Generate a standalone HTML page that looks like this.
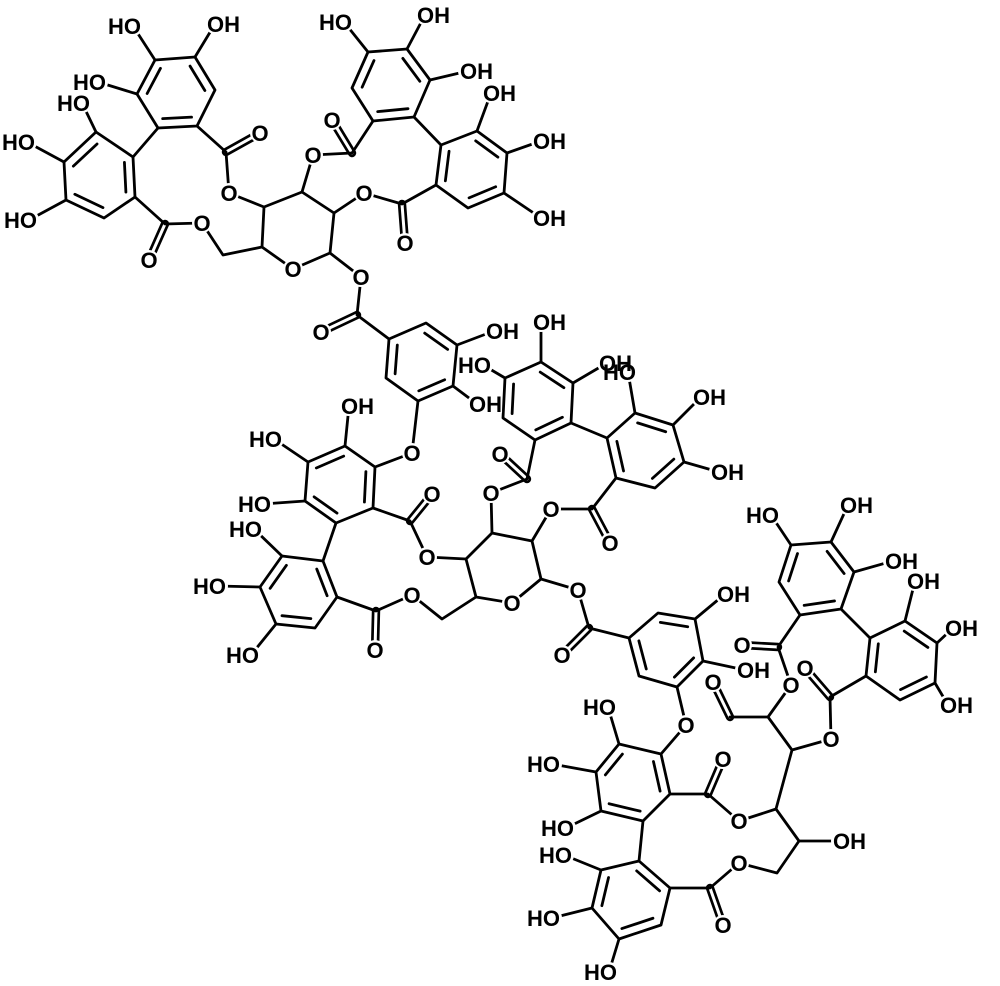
<!DOCTYPE html>
<html><head><meta charset="utf-8"><style>
html,body{margin:0;padding:0;background:#fff}
svg{display:block}
text{font-family:"Liberation Sans",sans-serif;font-weight:bold;font-size:22px;fill:#000;stroke:#fff;stroke-width:3px;paint-order:stroke;stroke-linejoin:round}
</style></head><body>
<svg width="1000" height="986" viewBox="0 0 1000 986" xmlns="http://www.w3.org/2000/svg">
<g fill="none" stroke-linecap="round" stroke-linejoin="round">
<g stroke="#000" stroke-width="8.4">
<path d="M226 152L260 133M165 224L149 260M352 153L332 120M402 204L405 243M357 315L321 332M410 521L432 494M376 611L375 650M527 479L500 454M592 509L610 543M589 628L562 655M708 794L723 759M710 888L723 925M730 717L713 682M778 647L742 645M830 697L805 668"/>
</g>
<g stroke="#fff" stroke-width="3">
<path d="M226 152L260 133M165 224L149 260M352 153L332 120M402 204L405 243M357 315L321 332M410 521L432 494M376 611L375 650M527 479L500 454M592 509L610 543M589 628L562 655M708 794L723 759M710 888L723 925M730 717L713 682M778 647L742 645M830 697L805 668"/>
</g>
<g stroke="#000" stroke-width="2.8">
<polygon points="155,60 195,57 215,90 197,126 158,128 137,94"/>
<polygon points="133,157 96,132 64,162 66,200 104,218 135,197"/>
<polygon points="373,121 352,88 368,52 407,49 430,80 414,117"/>
<polygon points="441,145 477,131 507,153 504,193 468,208 436,185"/>
<polygon points="389,339 426,323 457,345 453,386 418,401 386,378"/>
<polygon points="375,467 345,446 308,462 305,501 336,523 373,508"/>
<polygon points="323,561 282,556 260,587 276,624 315,628 337,597"/>
<polygon points="535,440 503,418 505,378 541,362 573,383 571,423"/>
<polygon points="607,438 635,413 673,425 684,462 655,488 616,478"/>
<polygon points="629,638 658,613 695,619 703,661 677,687 639,676"/>
<polygon points="661,754 619,744 596,772 601,811 643,821 670,794"/>
<polygon points="639,861 601,870 592,908 619,939 661,925 670,888"/>
<polygon points="800,615 779,582 791,545 831,542 854,572 841,609"/>
<polygon points="870,638 905,621 937,643 935,683 900,700 866,676"/>
<polygon points="264,207 302,192 334,213 330,253 293,269 262,247"/>
<polygon points="466,559 492,533 532,541 541,579 512,603 476,597"/>
<g transform="translate(176,92) scale(.74) translate(-176,-92)"><path vector-effect="non-scaling-stroke" d="M195 57L215 90M197 126L158 128M137 94L155 60"/></g>
<g transform="translate(100,178) scale(.74) translate(-100,-178)"><path vector-effect="non-scaling-stroke" d="M96 132L64 162M66 200L104 218M135 197L133 157"/></g>
<g transform="translate(391,85) scale(.74) translate(-391,-85)"><path vector-effect="non-scaling-stroke" d="M352 88L368 52M407 49L430 80M414 117L373 121"/></g>
<g transform="translate(472,169) scale(.74) translate(-472,-169)"><path vector-effect="non-scaling-stroke" d="M477 131L507 153M504 193L468 208M436 185L441 145"/></g>
<g transform="translate(421,362) scale(.74) translate(-421,-362)"><path vector-effect="non-scaling-stroke" d="M426 323L457 345M453 386L418 401M386 378L389 339"/></g>
<g transform="translate(340,485) scale(.74) translate(-340,-485)"><path vector-effect="non-scaling-stroke" d="M345 446L308 462M305 501L336 523M373 508L375 467"/></g>
<g transform="translate(299,592) scale(.74) translate(-299,-592)"><path vector-effect="non-scaling-stroke" d="M282 556L260 587M276 624L315 628M337 597L323 561"/></g>
<g transform="translate(538,401) scale(.74) translate(-538,-401)"><path vector-effect="non-scaling-stroke" d="M503 418L505 378M541 362L573 383M571 423L535 440"/></g>
<g transform="translate(645,451) scale(.74) translate(-645,-451)"><path vector-effect="non-scaling-stroke" d="M635 413L673 425M684 462L655 488M616 478L607 438"/></g>
<g transform="translate(667,649) scale(.74) translate(-667,-649)"><path vector-effect="non-scaling-stroke" d="M658 613L695 619M703 661L677 687M639 676L629 638"/></g>
<g transform="translate(632,783) scale(.74) translate(-632,-783)"><path vector-effect="non-scaling-stroke" d="M619 744L596 772M601 811L643 821M670 794L661 754"/></g>
<g transform="translate(630,899) scale(.74) translate(-630,-899)"><path vector-effect="non-scaling-stroke" d="M601 870L592 908M619 939L661 925M670 888L639 861"/></g>
<g transform="translate(816,578) scale(.74) translate(-816,-578)"><path vector-effect="non-scaling-stroke" d="M779 582L791 545M831 542L854 572M841 609L800 615"/></g>
<g transform="translate(902,660) scale(.74) translate(-902,-660)"><path vector-effect="non-scaling-stroke" d="M905 621L937 643M935 683L900 700M866 676L870 638"/></g>
<path d="M155 60L133 26M195 57L215 24M137 94L98 82M96 132L82 103M64 162L27 142M66 200L29 220M158 128L133 157M197 126L226 152L229 193L264 207M135 197L165 224L202 223L223 255L262 247M302 192L313 155L352 153L373 121M368 52L344 22M407 49L425 15M430 80L468 71M414 117L441 145M477 131L491 93M507 153L541 141M504 193L541 218M334 213L364 193L402 204L436 185M330 253L361 277L357 315L389 339"/>
<path d="M457 345L494 331M453 386L477 404M418 401L412 453L375 467M345 446L349 406M308 462L274 439M305 501L263 504M373 508L410 521L427 557L466 559M336 523L323 561M282 556L254 529M260 587L218 586M276 624L251 655M337 597L376 611L412 595L442 619L476 597M492 533L491 493L527 479L535 440M505 378L483 365M541 362L541 322M573 383L607 363M571 423L607 438M635 413L628 372M673 425L701 397M684 462L719 472M616 478L592 509L551 509L532 541M541 579L578 590L589 628L629 638"/>
<path d="M695 619L725 594M703 661L745 670M677 687L686 725L661 754M619 744L608 707M596 772L552 764M601 811L566 828M670 794L708 794L739 821L776 809M643 821L639 861M601 870L564 855M592 908L552 918M619 939L609 972M670 888L710 888L739 863L777 873L799 841M776 809L799 841L841 841M776 809L792 750L831 739M792 750L768 717L730 717M768 717L791 685L778 647L800 615M791 545L771 515M831 542L848 505M854 572L893 561M841 609L870 638M905 621L915 581M937 643L953 628M935 683L948 705M866 676L830 697L831 739"/>
</g>
</g>
<!-- white masks at all O positions -->
<g fill="#fff">
<circle cx="260" cy="133" r="10"/><circle cx="229" cy="193" r="10"/><circle cx="149" cy="260" r="10"/><circle cx="202" cy="223" r="10"/><circle cx="293" cy="269" r="10"/><circle cx="313" cy="155" r="10"/><circle cx="332" cy="120" r="10"/><circle cx="364" cy="193" r="10"/><circle cx="405" cy="243" r="10"/><circle cx="361" cy="277" r="10"/><circle cx="321" cy="332" r="10"/>
<circle cx="412" cy="453" r="10"/><circle cx="432" cy="494" r="10"/><circle cx="427" cy="557" r="10"/><circle cx="375" cy="650" r="10"/><circle cx="412" cy="595" r="10"/><circle cx="512" cy="603" r="10"/><circle cx="491" cy="493" r="10"/><circle cx="500" cy="454" r="10"/><circle cx="610" cy="543" r="10"/><circle cx="551" cy="509" r="10"/><circle cx="578" cy="590" r="10"/><circle cx="562" cy="655" r="10"/>
<circle cx="686" cy="725" r="10"/><circle cx="723" cy="759" r="10"/><circle cx="739" cy="821" r="10"/><circle cx="723" cy="925" r="10"/><circle cx="739" cy="863" r="10"/><circle cx="831" cy="739" r="10"/><circle cx="713" cy="682" r="10"/><circle cx="791" cy="685" r="10"/><circle cx="742" cy="645" r="10"/><circle cx="805" cy="668" r="10"/>
<circle cx="133" cy="26" r="10"/><circle cx="98" cy="82" r="10"/><circle cx="82" cy="103" r="10"/><circle cx="27" cy="142" r="10"/><circle cx="29" cy="220" r="10"/><circle cx="344" cy="22" r="10"/><circle cx="274" cy="439" r="10"/><circle cx="263" cy="504" r="10"/><circle cx="254" cy="529" r="10"/><circle cx="218" cy="586" r="10"/><circle cx="251" cy="655" r="10"/><circle cx="483" cy="365" r="10"/><circle cx="608" cy="707" r="10"/><circle cx="552" cy="764" r="10"/><circle cx="566" cy="828" r="10"/><circle cx="564" cy="855" r="10"/><circle cx="552" cy="918" r="10"/><circle cx="609" cy="972" r="10"/><circle cx="771" cy="515" r="10"/><circle cx="628" cy="372" r="10"/>
<circle cx="215" cy="24" r="10"/><circle cx="425" cy="15" r="10"/><circle cx="468" cy="71" r="10"/><circle cx="491" cy="93" r="10"/><circle cx="541" cy="141" r="10"/><circle cx="541" cy="218" r="10"/><circle cx="494" cy="331" r="10"/><circle cx="477" cy="404" r="10"/><circle cx="349" cy="406" r="10"/><circle cx="541" cy="322" r="10"/><circle cx="607" cy="363" r="10"/><circle cx="701" cy="397" r="10"/><circle cx="719" cy="472" r="10"/><circle cx="725" cy="594" r="10"/><circle cx="745" cy="670" r="10"/><circle cx="841" cy="841" r="10"/><circle cx="848" cy="505" r="10"/><circle cx="893" cy="561" r="10"/><circle cx="915" cy="581" r="10"/><circle cx="953" cy="628" r="10"/><circle cx="948" cy="705" r="10"/>
</g>
<g text-anchor="middle">
<text x="260" y="141">O</text><text x="229" y="201">O</text><text x="149" y="268">O</text><text x="202" y="231">O</text><text x="293" y="277">O</text><text x="313" y="163">O</text><text x="332" y="128">O</text><text x="364" y="201">O</text><text x="405" y="251">O</text><text x="361" y="285">O</text><text x="321" y="340">O</text>
<text x="412" y="461">O</text><text x="432" y="502">O</text><text x="427" y="565">O</text><text x="375" y="658">O</text><text x="412" y="603">O</text><text x="512" y="611">O</text><text x="491" y="501">O</text><text x="500" y="462">O</text><text x="610" y="551">O</text><text x="551" y="517">O</text><text x="578" y="598">O</text><text x="562" y="663">O</text>
<text x="686" y="733">O</text><text x="723" y="767">O</text><text x="739" y="829">O</text><text x="723" y="933">O</text><text x="739" y="871">O</text><text x="831" y="747">O</text><text x="713" y="690">O</text><text x="791" y="693">O</text><text x="742" y="653">O</text><text x="805" y="676">O</text>
</g>
<g text-anchor="end">
<text x="141" y="34">HO</text><text x="106" y="90">HO</text><text x="90" y="111">HO</text><text x="35" y="150">HO</text><text x="37" y="228">HO</text><text x="352" y="30">HO</text><text x="282" y="447">HO</text><text x="271" y="512">HO</text><text x="262" y="537">HO</text><text x="226" y="594">HO</text><text x="259" y="663">HO</text><text x="491" y="373">HO</text><text x="616" y="715">HO</text><text x="560" y="772">HO</text><text x="574" y="836">HO</text><text x="572" y="863">HO</text><text x="560" y="926">HO</text><text x="617" y="980">HO</text><text x="779" y="523">HO</text>
</g>
<g text-anchor="start">
<text x="207" y="32">OH</text><text x="417" y="23">OH</text><text x="460" y="79">OH</text><text x="483" y="101">OH</text><text x="533" y="149">OH</text><text x="533" y="226">OH</text><text x="486" y="339">OH</text><text x="469" y="412">OH</text><text x="341" y="414">OH</text><text x="533" y="330">OH</text><text x="599" y="371">OH</text><text x="693" y="405">OH</text><text x="711" y="480">OH</text><text x="717" y="602">OH</text><text x="737" y="678">OH</text><text x="833" y="849">OH</text><text x="840" y="513">OH</text><text x="885" y="569">OH</text><text x="907" y="589">OH</text><text x="945" y="636">OH</text><text x="940" y="713">OH</text>
</g>
<g text-anchor="end"><text x="636" y="380" style="stroke:none">HO</text></g>
</svg>
</body></html>
